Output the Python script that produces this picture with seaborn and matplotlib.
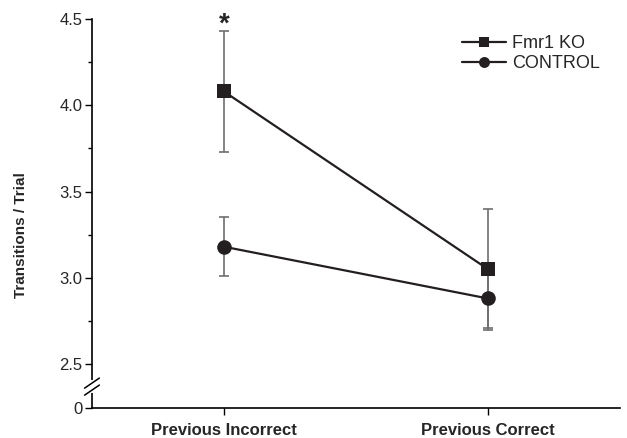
import pandas as pd
import matplotlib
matplotlib.use("Agg")
import matplotlib.pyplot as plt
import seaborn as sns

# data
conditions = ["Previous Incorrect", "Previous Correct"]
groups = ["Fmr1 KO", "CONTROL"]
ko_mean = [4.08, 3.05]
ko_sem = [0.35, 0.35]
ctrl_mean = [3.18, 2.88]
ctrl_sem = [0.17, 0.17]
y_ticks = [2.5, 3.0, 3.5, 4.0, 4.5]
y_minor = [2.75, 3.25, 3.75, 4.25]
y_floor = 2.245  # where the broken axis shows "0"

df = pd.DataFrame({
    "pos": [0, 1, 0, 1],
    "value": ko_mean + ctrl_mean,
    "sem": ko_sem + ctrl_sem,
    "group": [groups[0]] * 2 + [groups[1]] * 2,
})

sns.set_style("white")
plt.rcParams["font.family"] = ["Liberation Sans", "DejaVu Sans"]

fig = plt.figure(figsize=(6.27, 4.38), dpi=100)
ax = fig.add_axes([0.1467, 0.0685, 0.842, 0.888])

# error bars first so the markers sit on top
for g in groups:
    sub = df[df["group"] == g]
    ax.errorbar(sub["pos"], sub["value"], yerr=sub["sem"], fmt="none",
                ecolor="#6e6e6e", elinewidth=1.2, capsize=3.5, capthick=1.2, zorder=1)

sns.lineplot(data=df, x="pos", y="value", hue="group", style="group",
             markers={"Fmr1 KO": "s", "CONTROL": "o"}, dashes=False,
             palette={"Fmr1 KO": "#231f20", "CONTROL": "#231f20"},
             markersize=10.5, linewidth=1.6, markeredgewidth=0, ax=ax, zorder=3)

ax.text(0, 4.47, "*", ha="center", va="center", fontsize=20, fontweight="bold")

ax.set_xlim(-0.5, 1.5)
ax.set_ylim(y_floor, 4.5)
ax.set_xticks([0, 1])
ax.set_xticklabels(conditions, fontsize=12, fontweight="bold")
ax.set_yticks([y_floor] + y_ticks)
ax.set_yticklabels(["0"] + [f"{t:.1f}" for t in y_ticks], fontsize=12)
ax.set_yticks(y_minor, minor=True)
ax.tick_params(axis="both", which="major", direction="out", length=5, width=1,
               color="black", left=True, bottom=True, pad=2)
ax.tick_params(axis="x", which="major", pad=6)
ax.tick_params(axis="y", which="minor", direction="out", length=3, width=1,
               color="black", left=True)
ax.set_xlabel("")
ax.set_ylabel("Transitions / Trial", fontsize=11, fontweight="bold")
ax.yaxis.set_label_coords(-0.122, 0.445)

for s in ["top", "right"]:
    ax.spines[s].set_visible(False)
for s in ["left", "bottom"]:
    ax.spines[s].set_color("black")
    ax.spines[s].set_linewidth(1.2)

# axis break marks
ax.plot([0, 0], [0.043, 0.067], transform=ax.transAxes, color="white",
        linewidth=3, clip_on=False, zorder=5)
bk = dict(transform=ax.transAxes, color="black", linewidth=1.1, clip_on=False, zorder=6)
for dy in (0.0, 0.018):
    ax.plot([-0.014, 0.014], [0.033 + dy, 0.059 + dy], **bk)

handles, labels = ax.get_legend_handles_labels()
ax.legend(handles, labels, loc="upper left", bbox_to_anchor=(0.671, 1.0),
          frameon=False, fontsize=13, handlelength=2.4, handletextpad=0.35,
          labelspacing=0.15, markerscale=0.75)

fig.savefig("out.png", dpi=100)
